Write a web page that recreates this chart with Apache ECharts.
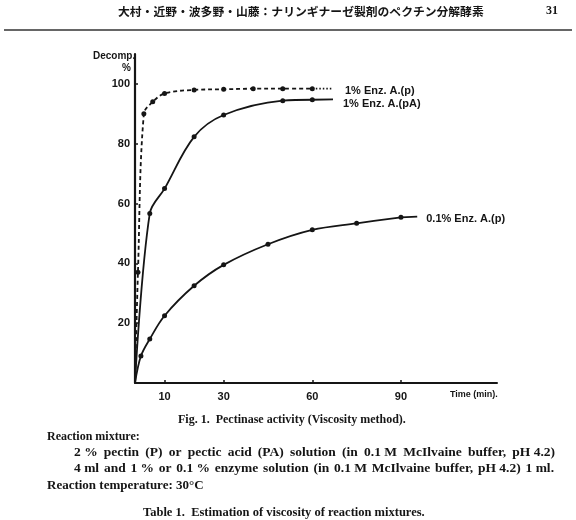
<!DOCTYPE html>
<html>
<head>
<meta charset="utf-8">
<script src="https://cdn.jsdelivr.net/npm/echarts@6/dist/echarts.min.js"></script>
<style>
  html, body { margin: 0; padding: 0; background: #fff; }
  #main { width: 576px; height: 520px; }
</style>
</head>
<body>
<div id="main"></div>
<script>
// time (min) and decomposition (%)
const timeP = [0, 1, 3, 6, 10, 20, 30, 40, 50, 60];
const decompP = [0, 37, 90, 94, 96.8, 98, 98.2, 98.4, 98.4, 98.4];
const tailP = [[60, 98.4], [67, 98.4]];

const timePA = [0, 5, 10, 20, 30, 50, 60];
const decompPA = [0, 56.7, 65, 82.3, 89.6, 94.4, 94.7];
const tailPA = [[60, 94.7], [67, 94.8]];

const time01 = [0, 2, 5, 10, 20, 30, 45, 60, 75, 90];
const decomp01 = [0, 9, 14.7, 22.5, 32.5, 39.5, 46.4, 51.2, 53.4, 55.4];
const tail01 = [[90, 55.4], [95.5, 55.6]];

const xTicks = [10, 30, 60, 90];
const yTicks = [20, 40, 60, 80, 100];

const ink = "#151515";
const sans = "Liberation Sans";
const serif = "'Liberation Serif'";

function pairs(xs, ys) {
  return xs.map((x, i) => [x, ys[i]]);
}

// spread the words of a line between x and x + width (justified print line)
const measure = document.createElement("canvas").getContext("2d");
function justified(text, font, x, y, width) {
  measure.font = font;
  const words = text.split(" ");
  const widths = words.map((w) => measure.measureText(w).width);
  const total = widths.reduce((a, b) => a + b, 0);
  const gap = (width - total) / (words.length - 1);
  let cx = x;
  const children = words.map((w, i) => {
    const el = { type: "text", x: cx, y: y, style: { text: w, font: font, fill: ink, verticalAlign: "top" } };
    cx += widths[i] + gap;
    return el;
  });
  return { type: "group", children: children };
}

const chart = echarts.init(document.getElementById("main"));

const lineBase = {
  type: "line",
  smooth: 0.35,
  symbol: "circle",
  symbolSize: (v) => (v[0] === 0 ? 0 : 5),
  itemStyle: { color: ink },
  silent: true,
};

function tail(data, text, dx, dy, dash) {
  return {
    type: "line",
    data: data,
    symbol: "none",
    silent: true,
    lineStyle: { color: ink, width: 1.8, type: dash },
    endLabel: {
      show: true,
      formatter: text,
      distance: dx,
      offset: [0, dy],
      color: ink,
      fontFamily: sans,
      fontWeight: "bold",
      fontSize: 11,
    },
  };
}

const bodyFont = "bold 13.5px " + serif;

const option = {
  animation: false,
  backgroundColor: "#fff",
  grid: { left: 135, right: 79, top: 54, bottom: 137 },
  xAxis: {
    type: "value",
    min: 0,
    max: 122.5,
    splitLine: { show: false },
    axisLine: { lineStyle: { color: ink, width: 2 } },
    axisTick: { inside: true, length: 3, customValues: xTicks, lineStyle: { color: ink, width: 1.5 } },
    axisLabel: {
      customValues: xTicks,
      margin: 8,
      color: ink,
      fontFamily: sans,
      fontWeight: "bold",
      fontSize: 11,
    },
  },
  yAxis: {
    type: "value",
    min: 0,
    max: 110,
    splitLine: { show: false },
    axisLine: { show: true, lineStyle: { color: ink, width: 2.2 } },
    axisTick: { show: true, inside: true, length: 3, customValues: yTicks, lineStyle: { color: ink, width: 1.5 } },
    axisLabel: {
      customValues: yTicks,
      margin: 5,
      color: ink,
      fontFamily: sans,
      fontWeight: "bold",
      fontSize: 11,
    },
  },
  series: [
    Object.assign({}, lineBase, {
      data: pairs(timeP, decompP),
      lineStyle: { color: ink, width: 1.8, type: [4, 3] },
    }),
    tail(tailP, "1% Enz. A.(p)", 12, 2, [1.5, 2]),
    Object.assign({}, lineBase, {
      data: pairs(timePA, decompPA),
      lineStyle: { color: ink, width: 1.8 },
    }),
    tail(tailPA, "1% Enz. A.(pA)", 10, 5, "solid"),
    Object.assign({}, lineBase, {
      data: pairs(time01, decomp01),
      lineStyle: { color: ink, width: 1.8 },
    }),
    tail(tail01, "0.1% Enz. A.(p)", 9, 2, "solid"),
  ],
  graphic: [
    // running head
    { type: "text", left: 118, top: 6, style: { text: "大村・近野・波多野・山藤：ナリンギナーゼ製剤のペクチン分解酵素", font: "bold 11.8px 'Noto Sans CJK JP'", fill: ink } },
    { type: "text", right: 18, top: 5, style: { text: "31", font: "bold 12px " + serif, fill: ink } },
    { type: "line", shape: { x1: 4, y1: 30, x2: 572, y2: 30 }, style: { stroke: "#333", lineWidth: 1.5 } },
    // axis titles
    { type: "text", left: 93, top: 51, style: { text: "Decomp.", font: "bold 10px " + sans, fill: ink } },
    { type: "text", left: 122, top: 63, style: { text: "%", font: "bold 10px " + sans, fill: ink } },
    { type: "text", left: 450, top: 390, style: { text: "Time (min).", font: "bold 9px " + sans, fill: ink } },
    // caption
    { type: "text", left: 178, top: 414, style: { text: "Fig. 1.  Pectinase activity (Viscosity method).", font: "bold 12px " + serif, fill: ink } },
    { type: "text", left: 47, top: 431, style: { text: "Reaction mixture:", font: "bold 12px " + serif, fill: ink } },
    justified("2\u00a0% pectin (P) or pectic acid (PA) solution (in 0.1\u00a0M McIlvaine buffer, pH\u00a04.2)", bodyFont, 74, 446, 481),
    justified("4\u00a0ml and 1\u00a0% or 0.1\u00a0% enzyme solution (in 0.1\u00a0M McIlvaine buffer, pH\u00a04.2) 1\u00a0ml.", bodyFont, 74, 462, 480),
    { type: "text", left: 47, top: 479, style: { text: "Reaction temperature: 30°C", font: "bold 13px " + serif, fill: ink } },
    { type: "text", left: 143, top: 506, style: { text: "Table 1.  Estimation of viscosity of reaction mixtures.", font: "bold 12.5px " + serif, fill: ink } },
  ],
};

chart.setOption(option);
</script>
</body>
</html>
